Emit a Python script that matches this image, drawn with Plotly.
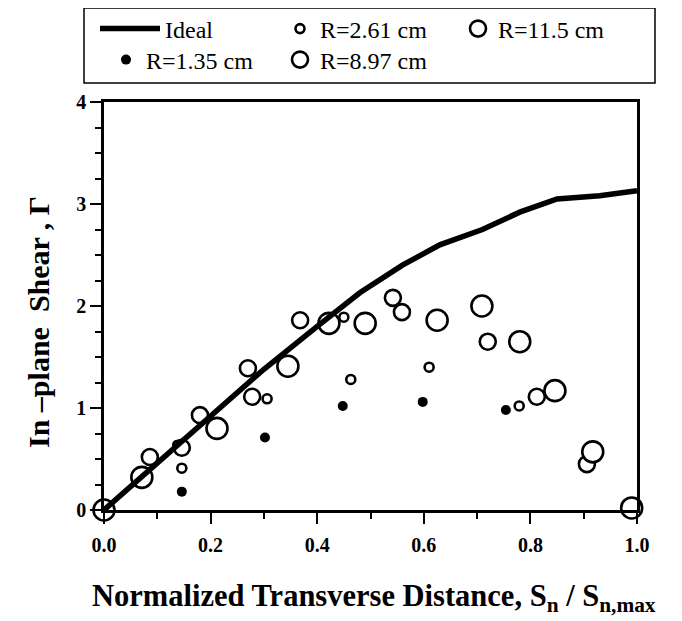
import plotly.graph_objects as go

# ---------------- data ----------------
ideal_x = [0.0, 0.1, 0.2, 0.3, 0.4, 0.48, 0.56, 0.63, 0.71, 0.78, 0.85, 0.93, 1.0]
ideal_y = [0.0, 0.46, 0.92, 1.38, 1.80, 2.13, 2.40, 2.60, 2.75, 2.92, 3.05, 3.08, 3.13]

r135_x = [0.137, 0.146, 0.302, 0.448, 0.598, 0.754]
r135_y = [0.64, 0.18, 0.71, 1.02, 1.06, 0.98]

r261_x = [0.146, 0.306, 0.450, 0.463, 0.610, 0.779]
r261_y = [0.41, 1.09, 1.89, 1.28, 1.40, 1.02]

r897_x = [0.086, 0.146, 0.180, 0.270, 0.278, 0.368, 0.542, 0.559, 0.720, 0.812, 0.906]
r897_y = [0.52, 0.61, 0.93, 1.39, 1.11, 1.86, 2.08, 1.94, 1.65, 1.11, 0.45]

r115_x = [0.0, 0.071, 0.212, 0.345, 0.422, 0.490, 0.625, 0.709, 0.780, 0.846, 0.917, 0.990]
r115_y = [0.0, 0.32, 0.80, 1.41, 1.83, 1.83, 1.86, 2.00, 1.65, 1.17, 0.57, 0.02]

x_ticks = [0.0, 0.2, 0.4, 0.6, 0.8, 1.0]
x_ticklabels = ["0.0", "0.2", "0.4", "0.6", "0.8", "1.0"]
y_ticks = [0, 1, 2, 3, 4]
y_ticklabels = ["0", "1", "2", "3", "4"]

# ---------------- layout helpers ----------------
WIN_W, WIN_H = 682, 621
OFF = 8  # default page body margin
PL, PR, PT, PB = 104, 637, 102, 510  # plot area in window pixels


def px2x(px):
    return (px - PL) / (PR - PL)


def px2y(py):
    return (PB - py) / (PB - PT)


SERIF = "Liberation Serif"
open_line = dict(color="black", width=2.6)

fig = go.Figure()

fig.add_trace(go.Scatter(
    x=r135_x, y=r135_y, mode="markers", name="R=1.35 cm", legend="legend4",
    marker=dict(symbol="circle", size=10, color="black", line=dict(width=0)),
    cliponaxis=False))
fig.add_trace(go.Scatter(
    x=r897_x, y=r897_y, mode="markers", name="R=8.97 cm", legend="legend5",
    marker=dict(symbol="circle", size=16, color="white", line=open_line),
    cliponaxis=False))
fig.add_trace(go.Scatter(
    x=r115_x, y=r115_y, mode="markers", name="R=11.5 cm", legend="legend3",
    marker=dict(symbol="circle", size=21, color="white", line=open_line),
    cliponaxis=False))
fig.add_trace(go.Scatter(
    x=r261_x, y=r261_y, mode="markers", name="R=2.61 cm", legend="legend2",
    marker=dict(symbol="circle", size=9, color="white", line=open_line),
    cliponaxis=False))
fig.add_trace(go.Scatter(
    x=ideal_x, y=ideal_y, mode="lines", name="Ideal", legend="legend",
    line=dict(color="black", width=5.5), cliponaxis=False))


def leg(px_origin, py_center, itemwidth=30):
    return dict(
        x=px2x(px_origin), y=px2y(py_center), xref="paper", yref="paper",
        xanchor="left", yanchor="middle", orientation="h",
        bgcolor="rgba(0,0,0,0)", borderwidth=0, itemwidth=itemwidth,
        itemsizing="trace",
        font=dict(family=SERIF, size=24, color="black"),
    )


axis_common = dict(
    showline=True, linecolor="black", linewidth=2.5, mirror=True,
    showgrid=False, zeroline=False, ticks="outside", ticklen=11,
    tickwidth=2, tickcolor="black",
    tickfont=dict(family=SERIF, size=20, color="black", weight="bold"),
)

fig.update_layout(
    width=WIN_W - OFF, height=WIN_H - OFF,
    margin=dict(l=PL - OFF, r=WIN_W - PR, t=PT - OFF, b=WIN_H - PB,
                autoexpand=False),
    paper_bgcolor="white", plot_bgcolor="white",
    showlegend=True,
    legend=leg(95, 29, itemwidth=60),
    legend2=leg(280, 29),
    legend3=leg(458, 29),
    legend4=leg(106, 60),
    legend5=leg(280, 60),
    xaxis=dict(
        range=[0, 1], tickvals=x_ticks, ticktext=x_ticklabels,
        ticklabelstandoff=4,
        minor=dict(dtick=0.1, ticks="outside", ticklen=6, tickwidth=2,
                   tickcolor="black", showgrid=False),
        **axis_common),
    yaxis=dict(
        range=[0, 4], tickvals=y_ticks, ticktext=y_ticklabels,
        ticklabelstandoff=0,
        minor=dict(dtick=0.25, ticks="outside", ticklen=6, tickwidth=2,
                   tickcolor="black", showgrid=False),
        **axis_common),
    shapes=[dict(type="rect", xref="paper", yref="paper",
                 x0=px2x(84), x1=px2x(655), y0=px2y(83), y1=px2y(8),
                 line=dict(color="black", width=1.5), fillcolor="rgba(0,0,0,0)")],
    annotations=[
        dict(text="Normalized Transverse Distance, S<sub>n</sub> / S<sub>n,max</sub>",
             xref="paper", yref="paper", x=px2x(374), y=px2y(598),
             xanchor="center", yanchor="middle", showarrow=False,
             font=dict(family=SERIF, size=30.5, color="black", weight="bold")),
        dict(text="In \u2013plane\u00a0\u00a0Shear , \u0393",
             xref="paper", yref="paper", x=px2x(38), y=px2y(322),
             xanchor="center", yanchor="middle", showarrow=False, textangle=-90,
             font=dict(family=SERIF, size=30, color="black", weight="bold")),
    ],
)

fig.write_html("out.html")
